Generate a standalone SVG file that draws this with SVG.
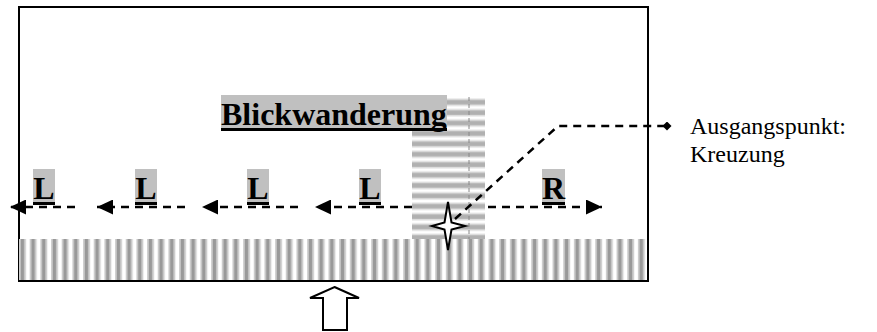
<svg xmlns="http://www.w3.org/2000/svg" width="877" height="332" viewBox="0 0 877 332">
<style>
.lbl{font-family:"Liberation Serif","Times New Roman",serif;font-weight:bold;font-size:32px;fill:#000}
.cap{font-family:"Liberation Serif","Times New Roman",serif;font-size:24px;fill:#000}
.hl{fill:#c0c0c0}
.ul{fill:#000}
.dash{fill:none;stroke:#000;stroke-width:2.5;stroke-dasharray:8 6}
</style>
<defs>
<pattern id="vstripes" x="19" y="239" width="10.67" height="10" patternUnits="userSpaceOnUse">
<rect width="10.67" height="10" fill="#fff"/>
<rect x="0" width="1.5" height="10" fill="#cfcfcf"/>
<rect x="1.5" width="4" height="10" fill="#999"/>
<rect x="5.5" width="1.5" height="10" fill="#cfcfcf"/>
</pattern>
<pattern id="hstripes" x="412" y="97" width="10" height="10.4" patternUnits="userSpaceOnUse">
<rect width="10" height="10.4" fill="#fff"/>
<rect y="1.5" width="10" height="1.5" fill="#dcdcdc"/>
<rect y="3" width="10" height="4.5" fill="#b0b0b0"/>
<rect y="7.5" width="10" height="1.5" fill="#dcdcdc"/>
</pattern>
<marker id="ah" viewBox="0 0 16 15" refX="16" refY="7.5" markerWidth="16" markerHeight="15" markerUnits="userSpaceOnUse" orient="auto">
<path d="M0,0 L16,7.5 L0,15 Z" fill="#000"/>
</marker>
<marker id="dm" viewBox="0 0 9 9" refX="4.5" refY="4.5" markerWidth="9" markerHeight="9" markerUnits="userSpaceOnUse" orient="auto">
<path d="M4.5,0 L9,4.5 L4.5,9 L0,4.5 Z" fill="#000"/>
</marker>
</defs>
<rect width="877" height="332" fill="#fff"/>
<g id="frame">
<rect x="19" y="7" width="629" height="274" fill="none" stroke="#000" stroke-width="2"/>
</g>
<g id="road">
<rect x="19" y="239" width="627" height="41" fill="url(#vstripes)"/>
</g>
<g id="connectors">
<line class="dash" x1="75" y1="207" x2="10" y2="207" marker-end="url(#ah)"/>
<line class="dash" x1="185" y1="207" x2="97" y2="207" marker-end="url(#ah)"/>
<line class="dash" x1="298" y1="207" x2="202" y2="207" marker-end="url(#ah)"/>
<line class="dash" x1="412" y1="207" x2="315" y2="207" marker-end="url(#ah)"/>
<line class="dash" x1="460" y1="207" x2="602" y2="207" marker-end="url(#ah)"/>
</g>
<g id="crossing">
<rect x="412" y="97" width="73" height="142" fill="url(#hstripes)"/>
<line x1="469" y1="97" x2="469" y2="239" stroke="#888" stroke-width="1" stroke-dasharray="4 3"/>
</g>
<g id="title">
<rect class="hl" x="221" y="95" width="226" height="34"/>
<text class="lbl" x="221" y="125">Blickwanderung</text>
<rect class="ul" x="221" y="128" width="226" height="3"/>
</g>
<g id="connector-start">
<path class="dash" d="M455,219 L558,126 L667,126" marker-end="url(#dm)"/>
</g>
<g id="label-L1">
<rect class="hl" x="33" y="169" width="22" height="34"/>
<text class="lbl" x="44" y="199" text-anchor="middle">L</text>
<rect class="ul" x="33" y="202" width="22" height="3"/>
</g>
<g id="label-L2">
<rect class="hl" x="135" y="169" width="22" height="34"/>
<text class="lbl" x="146" y="199" text-anchor="middle">L</text>
<rect class="ul" x="135" y="202" width="22" height="3"/>
</g>
<g id="label-L3">
<rect class="hl" x="247" y="169" width="22" height="34"/>
<text class="lbl" x="258" y="199" text-anchor="middle">L</text>
<rect class="ul" x="247" y="202" width="22" height="3"/>
</g>
<g id="label-L4">
<rect class="hl" x="359" y="169" width="22" height="34"/>
<text class="lbl" x="370" y="199" text-anchor="middle">L</text>
<rect class="ul" x="359" y="202" width="22" height="3"/>
</g>
<g id="label-R">
<rect class="hl" x="542" y="169" width="23" height="34"/>
<text class="lbl" x="553.5" y="199" text-anchor="middle">R</text>
<rect class="ul" x="542" y="202" width="23" height="3"/>
</g>
<g id="star">
<path d="M448,202 L451.5,222.5 L465,226 L451.5,229.5 L448,250 L444.5,229.5 L432,226 L444.5,222.5 Z" fill="#fff" stroke="#000" stroke-width="2" stroke-linejoin="miter"/>
</g>
<g id="caption">
<text class="cap" x="690" y="134">Ausgangspunkt:</text>
<text class="cap" x="690" y="162">Kreuzung</text>
</g>
<g id="view-arrow">
<path d="M334.5,287 L359,298 L347,298 L347,330 L323,330 L323,298 L310,298 Z" fill="#fff" stroke="#000" stroke-width="2"/>
</g>
</svg>
